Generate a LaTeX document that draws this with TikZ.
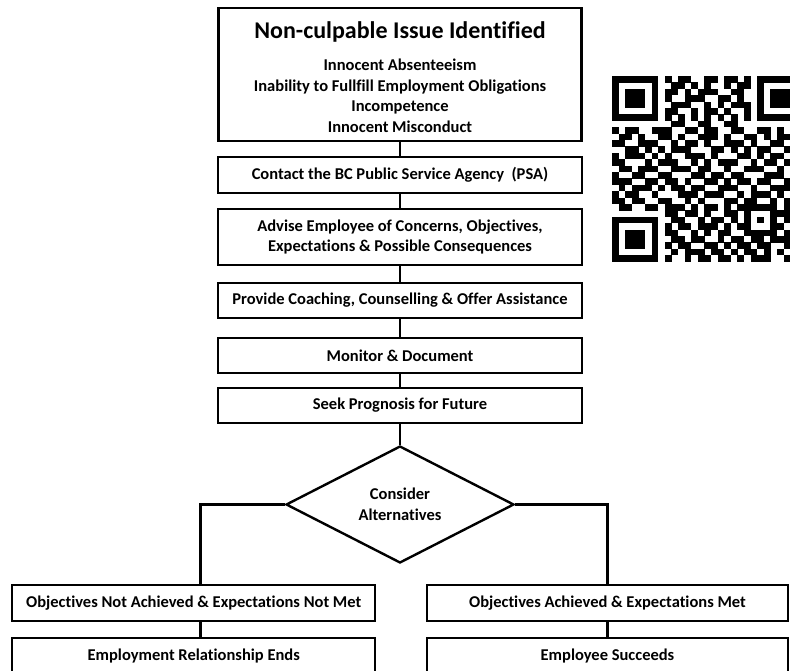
\documentclass[tikz,border=0pt]{standalone}
\usepackage{fontspec}
\setmainfont{Carlito}[RawFeature={-liga,-clig,-dlig,-calt}]
\usetikzlibrary{shapes.geometric}
\newcommand\txtfont{\bfseries\fontsize{16.5}{20.5}\selectfont}
\newcount\qrc
\def\qrparse#1{%
  \ifx#1\relax\else
    \ifnum#1=1 \fill[black] (612+6.6*\the\qrc,76+6.4*\qrr) rectangle ++(6.8,6.6);\fi
    \advance\qrc by 1
    \expandafter\qrparse
  \fi}
\begin{document}
\begin{tikzpicture}[x=1pt,y=-1pt,
  box/.style={draw, line width=2.4pt, inner sep=0pt, align=center, font=\txtfont},
  conn/.style={draw, line width=2.4pt},
  lbl/.style={inner sep=0pt, align=center}]
\useasboundingbox (0,0) rectangle (790,671);
\fill[white] (0,0) rectangle (790,671);
\clip (0,0) rectangle (790,671);

% top box
\node[box, line width=2.8pt, minimum width=363pt, minimum height=133pt] (issue) at (400,74.5) {};
\node[lbl, font=\bfseries\fontsize{24}{28}\selectfont] (title) at (400,32) {Non-culpable Issue Identif\kern0pt ied};
\node[lbl, font=\txtfont] (types) at (400,96) {Innocent Absenteeism\\Inability to Fullf\kern0pt ill Employment Obligat\kern0pt ions\\Incompetence\\Innocent Misconduct};

\node[box, minimum width=364pt, minimum height=36pt] (psa) at (400,175) {Contact the BC Public Service Agency\ \ (PSA)};
\node[box, minimum width=364pt, minimum height=56pt] (advise) at (400,237) {Advise Employee of Concerns, Object\kern0pt ives,\\Expectat\kern0pt ions \& Possible Consequences};
\node[box, minimum width=364pt, minimum height=35pt] (coach) at (400,300.5) {Provide Coaching, Counselling \& Offer Assistance};
\node[box, minimum width=364pt, minimum height=35pt] (monitor) at (400,355.5) {Monitor \& Document};
\node[box, minimum width=364pt, minimum height=35pt] (seek) at (400,405.5) {Seek Prognosis for Future};
\node[box, diamond, minimum width=228pt, minimum height=117pt] (dec) at (400,504.5) {Consider\\Alternat\kern0pt ives};

\node[box, minimum width=363pt, minimum height=36pt] (notmet) at (193.7,603) {Object\kern0pt ives Not Achieved \& Expectat\kern0pt ions Not Met};
\node[box, minimum width=363pt, minimum height=36pt] (ends) at (193.7,656) {Employment Relat\kern0pt ionship Ends};
\node[box, minimum width=361pt, minimum height=36pt] (met) at (607.5,603) {Object\kern0pt ives Achieved \& Expectat\kern0pt ions Met};
\node[box, minimum width=361pt, minimum height=36pt] (succ) at (607.5,656) {Employee Succeeds};

\draw[conn] (issue) -- (psa);
\draw[conn] (psa) -- (advise);
\draw[conn] (advise) -- (coach);
\draw[conn] (coach) -- (monitor);
\draw[conn] (monitor) -- (seek);
\draw[conn] (seek) -- (dec);
\coordinate (lx) at (200.5,0);
\draw[conn] (dec.west) -| (lx |- notmet.north);
\draw[conn] (lx |- notmet.south) -- (lx |- ends.north);
\draw[conn] (dec.east) -| (met.north);
\draw[conn] (met) -- (succ);

% QR code
\foreach \s [count=\qrr from 0] in {
11111110101100110110101111111,
10000010011010100101101000001,
10111010110101110011001011101,
10111010100111001101001011101,
10111010011100101011101011101,
10000010110010110100101000001,
11111110101010101010101111111,
00000000011001100110000000000,
10110011100110110011001101001,
01101001101001110100110101100,
11001110010110100111010011011,
00110101011100011010101100101,
10111010100111010001101011010,
11000101110010101110010110111,
01101110011101100100111001010,
10011001100011011011000111001,
11100110110100110101101100110,
01011101011011001110010011101,
10110010001110111001011101011,
11011001100101000110110010100,
01100110111010110101111110101,
00000000110110100110100011100,
11111110011001011010101010110,
10000010101101110101100011011,
10111010110010101100111110100,
10111010011011001011011011101,
10111010101100110101101100110,
10000010010111011010110101011,
11111110100101101101011100101}{\qrc=0 \expandafter\qrparse\s\relax}
\end{tikzpicture}
\end{document}
